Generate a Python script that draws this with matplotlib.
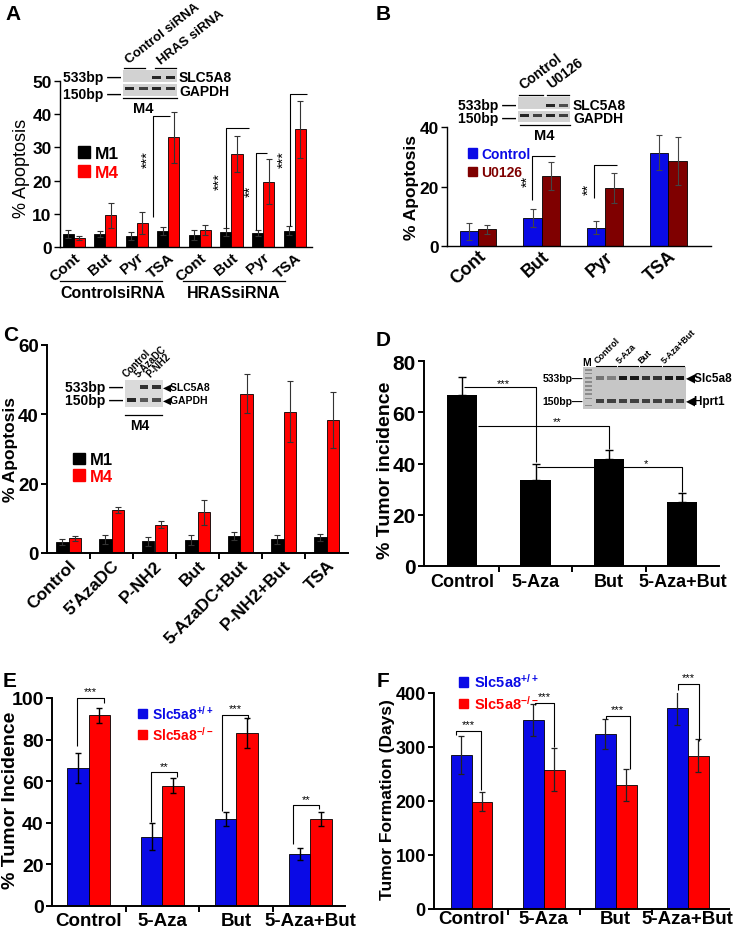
import matplotlib
matplotlib.use('Agg')
import matplotlib.pyplot as plt
import numpy as np
from matplotlib.patches import Rectangle, Patch
from matplotlib.lines import Line2D

plt.rcParams['font.family'] = ['Liberation Sans', 'DejaVu Sans']
plt.rcParams['mathtext.fontset'] = 'custom'
plt.rcParams['mathtext.rm'] = 'Liberation Sans:bold'
plt.rcParams['mathtext.bf'] = 'Liberation Sans:bold'
plt.rcParams['mathtext.default'] = 'regular'

# ---------------- data ----------------
A_cats = ['Cont', 'But', 'Pyr', 'TSA', 'Cont', 'But', 'Pyr', 'TSA']
A_m1 = [3.9, 4.0, 3.3, 4.9, 3.5, 4.4, 4.1, 4.9]
A_m1_err = [1.1, 0.9, 1.3, 1.2, 1.5, 1.2, 0.9, 1.3]
A_m4 = [2.6, 9.6, 7.1, 33.0, 5.0, 28.0, 19.7, 35.4]
A_m4_err = [0.6, 3.8, 3.3, 7.7, 1.5, 5.5, 6.8, 8.7]
A_groups = ['ControlsiRNA', 'HRASsiRNA']

B_cats = ['Cont', 'But', 'Pyr', 'TSA']
B_ctrl = [4.9, 9.4, 6.2, 31.4]
B_ctrl_err = [2.8, 2.9, 2.1, 6.0]
B_u0126 = [5.6, 23.6, 19.5, 28.5]
B_u0126_err = [1.5, 4.8, 5.2, 8.0]

C_cats = ['Control', "5'AzaDC", 'P-NH2', 'But', '5-AzaDC+But', 'P-NH2+But', 'TSA']
C_m1 = [3.1, 3.9, 3.4, 3.8, 4.9, 3.9, 4.5]
C_m1_err = [0.9, 1.2, 1.3, 1.5, 1.1, 1.3, 1.0]
C_m4 = [4.2, 12.4, 8.1, 11.7, 46.0, 40.8, 38.3]
C_m4_err = [0.8, 0.8, 1.0, 3.7, 5.5, 8.9, 8.0]

D_cats = ['Control', '5-Aza', 'But', '5-Aza+But']
D_vals = [66.7, 33.4, 41.7, 25.1]
D_err = [7.2, 6.6, 3.5, 3.5]

E_cats = ['Control', '5-Aza', 'But', '5-Aza+But']
E_wt = [66.4, 33.4, 41.8, 24.9]
E_wt_err = [7.1, 6.3, 3.5, 2.9]
E_ko = [91.6, 57.9, 83.1, 41.8]
E_ko_err = [3.7, 3.5, 7.3, 3.5]

F_cats = ['Control', '5-Aza', 'But', '5-Aza+But']
F_wt = [285, 350, 324, 373]
F_wt_err = [35, 30, 28, 32]
F_ko = [199, 258, 230, 284]
F_ko_err = [17, 40, 30, 30]

BLACK = '#000000'
RED = '#ff0000'
BLUE = '#0a0ae6'
DKRED = '#7f0000'

W, H = 742, 928
fig = plt.figure(figsize=(W / 100, H / 100), dpi=100)


def add_ax(l, t, r, b):
    return fig.add_axes([l / W, 1 - b / H, (r - l) / W, (b - t) / H])


def ftext(x, y, s, **kw):
    kw.setdefault('fontweight', 'bold')
    kw.setdefault('ha', 'center')
    kw.setdefault('va', 'center')
    return fig.text(x / W, 1 - y / H, s, **kw)


def fline(x0, y0, x1, y1, lw=1.0, color='black'):
    fig.add_artist(Line2D([x0 / W, x1 / W], [1 - y0 / H, 1 - y1 / H], lw=lw, color=color))


def style(ax, lw=1.2, ytick_fs=11, minor=True, n=None):
    for s in ['top', 'right']:
        ax.spines[s].set_visible(False)
    for s in ['left', 'bottom']:
        ax.spines[s].set_linewidth(lw)
    ax.tick_params(axis='y', direction='out', length=4, width=lw, labelsize=ytick_fs, pad=2)
    ax.tick_params(axis='x', which='major', length=0)
    if minor and n is not None:
        ax.set_xticks(np.arange(n - 1) + 0.5, minor=True)
        ax.tick_params(axis='x', which='minor', direction='out', length=4, width=lw)
    for lab in ax.get_yticklabels():
        lab.set_fontweight('bold')


def pair(ax, v1, e1, v2, e2, w, c1, c2, ecolor='black', elw=0.8, cap=2.5, edge='black'):
    x = np.arange(len(v1))
    ax.bar(x - w / 2, v1, w, color=c1, edgecolor=edge, linewidth=0.6)
    ax.bar(x + w / 2, v2, w, color=c2, edgecolor=edge, linewidth=0.6)
    ax.errorbar(x - w / 2, v1, yerr=e1, fmt='none', ecolor=ecolor, elinewidth=elw, capsize=cap, capthick=elw)
    ax.errorbar(x + w / 2, v2, yerr=e2, fmt='none', ecolor=ecolor, elinewidth=elw, capsize=cap, capthick=elw)


def path(ax, xs, ys, lw=0.8):
    ax.plot(xs, ys, color='black', lw=lw, clip_on=False, solid_capstyle='butt')


def gel(l, t, r, b, rows, bg='#d2d2d2', sep=None, bw=0.7, bh=0.12, ladder=None):
    g = add_ax(l, t, r, b)
    n = len(rows[0][1])
    g.set_xlim(0, n)
    g.set_ylim(0, 1)
    g.set_facecolor(bg)
    g.set_xticks([])
    g.set_yticks([])
    for s in g.spines.values():
        s.set_visible(False)
    for yc, lanes in rows:
        for i, v in enumerate(lanes):
            if v > 0:
                g.add_patch(Rectangle((i + (1 - bw) / 2, yc - bh / 2), bw, bh,
                                      color=str(1 - v), lw=0))
    if sep is not None:
        g.axhline(sep, color='white', lw=1.5)
    if ladder is not None:
        for yl in ladder:
            g.add_patch(Rectangle((0.2, yl - 0.015), 0.6, 0.03, color='0.55', lw=0))
    return g


# ======================= Panel A =======================
axA = add_ax(60, 82, 312, 248)
wA = 0.35
pair(axA, A_m1, A_m1_err, A_m4, A_m4_err, wA, BLACK, RED, ecolor='#333333', elw=0.8, cap=2)
axA.set_xlim(-0.43, 7.55)
axA.set_ylim(0, 50)
axA.set_yticks([0, 10, 20, 30, 40, 50])
style(axA, lw=1.0, ytick_fs=12.5, minor=False)
axA.set_xticks(range(len(A_cats)))
axA.set_xticklabels(A_cats, rotation=40, ha='right', rotation_mode='anchor',
                    fontsize=11, fontweight='bold')
axA.tick_params(axis='x', pad=2)
# significance brackets
path(axA, [2.52, 2.52, 3.06], [9.0, 39.5, 39.5])
axA.text(2.35, 26.5, '***', rotation=90, ha='center', va='center', fontsize=10.5)
path(axA, [4.82, 4.82, 5.54], [5.7, 35.7, 35.7])
axA.text(4.62, 20, '***', rotation=90, ha='center', va='center', fontsize=10.5)
path(axA, [5.79, 5.79, 6.14], [5.0, 28.2, 28.2])
axA.text(5.6, 17, '**', rotation=90, ha='center', va='center', fontsize=10.5)
path(axA, [6.84, 6.84, 7.38], [6.3, 46.0, 46.0])
axA.text(6.66, 26.5, '***', rotation=90, ha='center', va='center', fontsize=10.5)
axA.legend(handles=[Patch(color=BLACK), Patch(color=RED)], labels=['M1', 'M4'],
           labelcolor=[BLACK, RED], frameon=False, handlelength=0.7, handleheight=0.7,
           handletextpad=0.3, labelspacing=0.25, prop={'weight': 'bold', 'size': 12.5},
           loc='center left', bbox_to_anchor=(62 / W, 1 - 164 / H), bbox_transform=fig.transFigure)
ftext(22, 168, '% Apoptosis', rotation=90, fontsize=13, fontweight='normal')
ftext(13, 15, 'A', fontsize=15)
# group labels
fline(60, 282, 162, 282, lw=0.9)
ftext(113, 294, A_groups[0], fontsize=11.5)
fline(183, 282, 285, 282, lw=0.9)
ftext(234, 294, A_groups[1], fontsize=11.5)
# gel inset A
gel(123, 71, 177, 97, [(0.70, [0, 0, 0.85, 0.85]), (0.30, [0.85, 0.75, 0.85, 0.8])], sep=0.5)
ftext(121, 78, '533bp —', ha='right', fontsize=10)
ftext(121, 95, '150bp —', ha='right', fontsize=10)
ftext(179, 78, 'SLC5A8', ha='left', fontsize=10)
ftext(179, 92, 'GAPDH', ha='left', fontsize=10)
fline(123, 99, 177, 99, lw=0.9)
ftext(143, 109, 'M4', fontsize=10.5)
fline(124, 69, 145, 69, lw=0.9)
fline(155, 69, 176, 69, lw=0.9)
ftext(131, 66, 'Control siRNA', ha='left', va='bottom', rotation=38, rotation_mode='anchor', fontsize=9.5)
ftext(163, 67, 'HRAS siRNA', ha='left', va='bottom', rotation=38, rotation_mode='anchor', fontsize=9.5)

# ======================= Panel B =======================
axB = add_ax(447, 128, 711, 247)
wB = 0.285
pair(axB, B_ctrl, B_ctrl_err, B_u0126, B_u0126_err, wB, BLUE, DKRED, ecolor='#444444', elw=0.8, cap=2.5)
axB.set_xlim(-0.49, 3.67)
axB.set_ylim(0, 40)
axB.set_yticks([0, 20, 40])
style(axB, lw=1.0, ytick_fs=12.5, minor=False)
axB.set_xticks(range(len(B_cats)))
axB.set_xticklabels(B_cats, rotation=42, ha='right', rotation_mode='anchor',
                    fontsize=13, fontweight='bold')
axB.tick_params(axis='x', pad=1)
path(axB, [0.85, 0.85, 1.21], [15.6, 30.3, 30.3])
axB.text(0.78, 21.9, '**', rotation=90, ha='center', va='center', fontsize=10.5)
path(axB, [1.83, 1.83, 2.19], [16.0, 27.2, 27.2])
axB.text(1.74, 19.4, '**', rotation=90, ha='center', va='center', fontsize=10.5)
axB.legend(handles=[Patch(color=BLUE), Patch(color=DKRED)], labels=['Control', 'U0126'],
           labelcolor=[BLUE, DKRED], frameon=False, handlelength=0.7, handleheight=0.7,
           handletextpad=0.3, labelspacing=0.35, prop={'weight': 'bold', 'size': 10},
           loc='center left', bbox_to_anchor=(455 / W, 1 - 164 / H), bbox_transform=fig.transFigure)
ftext(411, 188, '% Apoptosis', rotation=90, fontsize=12.5)
ftext(383, 15, 'B', fontsize=15)
gel(518, 98, 570, 123, [(0.68, [0, 0, 0.85, 0.7]), (0.25, [0.85, 0.75, 0.85, 0.75])], sep=0.48)
ftext(516, 106, '533bp —', ha='right', fontsize=10)
ftext(516, 119, '150bp —', ha='right', fontsize=10)
ftext(573, 106, 'SLC5A8', ha='left', fontsize=10)
ftext(573, 119, 'GAPDH', ha='left', fontsize=10)
fline(520, 126, 570, 126, lw=0.9)
ftext(544, 136, 'M4', fontsize=10.5)
fline(519, 96, 543, 96, lw=0.9)
fline(547, 96, 569, 96, lw=0.9)
ftext(525, 92, 'Control', ha='left', va='bottom', rotation=37, rotation_mode='anchor', fontsize=10)
ftext(553, 91, 'U0126', ha='left', va='bottom', rotation=37, rotation_mode='anchor', fontsize=10)

# ======================= Panel C =======================
axC = add_ax(47, 346, 348, 554)
wC = 0.28
pair(axC, C_m1, C_m1_err, C_m4, C_m4_err, wC, BLACK, RED, ecolor='#333333', elw=0.8, cap=2.5)
axC.set_xlim(-0.5, 6.5)
axC.set_ylim(0, 60)
axC.set_yticks([0, 20, 40, 60])
style(axC, lw=1.4, ytick_fs=13.5, minor=True, n=len(C_cats))
axC.set_xticks(range(len(C_cats)))
axC.set_xticklabels(C_cats, rotation=45, ha='right', rotation_mode='anchor',
                    fontsize=12.5, fontweight='bold')
axC.tick_params(axis='x', pad=3)
axC.legend(handles=[Patch(color=BLACK), Patch(color=RED)], labels=['M1', 'M4'],
           labelcolor=[BLACK, RED], frameon=False, handlelength=0.7, handleheight=0.7,
           handletextpad=0.3, labelspacing=0.1, prop={'weight': 'bold', 'size': 12},
           loc='center left', bbox_to_anchor=(58 / W, 1 - 469 / H), bbox_transform=fig.transFigure)
ftext(11, 450, '% Apoptosis', rotation=90, fontsize=12.5)
ftext(11, 336, 'C', fontsize=15)
gel(125, 381, 163, 408, [(0.74, [0, 0.8, 0.8]), (0.26, [0.85, 0.65, 0.7])], bg='#dadada')
ftext(123, 388, '533bp —', ha='right', fontsize=10)
ftext(123, 401, '150bp —', ha='right', fontsize=10)
ftext(163, 388, '◀SLC5A8', ha='left', fontsize=7.5)
ftext(163, 401, '◀GAPDH', ha='left', fontsize=7.5)
fline(125, 416, 162, 416, lw=0.9)
ftext(140, 426, 'M4', fontsize=10)
ftext(128, 379, 'Control', ha='left', va='bottom', rotation=45, rotation_mode='anchor', fontsize=7)
ftext(140, 379, '5-AzaDC', ha='left', va='bottom', rotation=45, rotation_mode='anchor', fontsize=7)
ftext(152, 379, 'P-NH2', ha='left', va='bottom', rotation=45, rotation_mode='anchor', fontsize=7)

# ======================= Panel D =======================
axD = add_ax(424, 362, 719, 567)
xD = np.arange(len(D_vals))
axD.bar(xD, D_vals, 0.41, color=BLACK)
axD.errorbar(xD, D_vals, yerr=[np.zeros(len(D_err)), D_err], fmt='none', ecolor=BLACK,
             elinewidth=1.0, capsize=3, capthick=1.0)
axD.set_xlim(-0.52, 3.5)
axD.set_ylim(0, 80)
axD.set_yticks([0, 20, 40, 60, 80])
style(axD, lw=1.4, ytick_fs=15, minor=True, n=len(D_cats))
axD.set_xticks(xD)
axD.set_xticklabels(D_cats, fontsize=13, fontweight='bold')
axD.tick_params(axis='x', pad=5)
path(axD, [0.03, 1.01, 1.01], [69.7, 69.7, 40.4])
axD.text(0.56, 71.5, '***', ha='center', va='center', fontsize=8)
path(axD, [0.22, 2.0, 2.0], [54.6, 54.6, 45.5])
axD.text(1.3, 56.4, '**', ha='center', va='center', fontsize=8)
path(axD, [1.02, 3.0, 3.0], [38.6, 38.6, 28.8])
axD.text(2.51, 40.3, '*', ha='center', va='center', fontsize=8)
ftext(385, 470, '% Tumor incidence', rotation=90, fontsize=14)
ftext(383, 340, 'D', fontsize=15)
gel(583, 368, 686, 410,
    [(0.74, [0, 0.55, 0.5, 0.9, 0.9, 0.8, 0.8, 0.9, 0.9]),
     (0.19, [0, 0.75, 0.75, 0.75, 0.75, 0.75, 0.75, 0.75, 0.75])],
    bg='#c6c6c6', bw=0.72, bh=0.09,
    ladder=[0.93, 0.84, 0.74, 0.64, 0.55, 0.45, 0.36, 0.25, 0.08])
ftext(583, 379, '533bp—', ha='right', fontsize=7.5)
ftext(583, 402, '150bp—', ha='right', fontsize=7.5)
ftext(686, 379, '◀Slc5a8', ha='left', fontsize=8.5)
ftext(686, 402, '◀Hprt1', ha='left', fontsize=8.5)
ftext(587, 363, 'M', fontsize=7.5)
for (xa, xb, lab) in [(596, 616, 'Control'), (618, 638, '5-Aza'), (640, 661, 'But'), (663, 684, '5-Aza+But')]:
    fline(xa, 367, xb, 367, lw=0.8)
    ftext(xa + 3, 365, lab, ha='left', va='bottom', rotation=45, rotation_mode='anchor', fontsize=6.5)

# ======================= Panel E =======================
axE = add_ax(52, 699, 345, 907)
wE = 0.29
pair(axE, E_wt, E_wt_err, E_ko, E_ko_err, wE, BLUE, RED, ecolor='black', elw=1.0, cap=2.5)
axE.set_xlim(-0.495, 3.47)
axE.set_ylim(0, 100)
axE.set_yticks([0, 20, 40, 60, 80, 100])
style(axE, lw=1.4, ytick_fs=14, minor=True, n=len(E_cats))
axE.set_xticks(range(len(E_cats)))
axE.set_xticklabels(E_cats, fontsize=13.5, fontweight='bold')
axE.tick_params(axis='x', pad=4)
for (xl, xr, yl, yt, yr, lab, yl2) in [(-0.15, 0.21, 77.1, 100.0, 97.7, '***', 103.5),
                                         (0.84, 1.2, 40.2, 64.3, 61.9, '**', 67.5),
                                         (1.81, 2.16, 45.5, 92.0, 90.0, '***', 95.3),
                                         (2.77, 3.12, 29.7, 48.6, 46.6, '**', 51.5)]:
    path(axE, [xl, xl, xr, xr], [yl, yt, yt, yr])
    axE.text((xl + xr) / 2, yl2, lab, ha='center', va='center', fontsize=8)
axE.legend(handles=[Patch(color=BLUE), Patch(color=RED)],
           labels=['Slc5a8$^{+/+}$', 'Slc5a8$^{-/-}$'],
           labelcolor=[BLUE, RED], frameon=False, handlelength=0.6, handleheight=0.6,
           handletextpad=0.4, labelspacing=0.2, prop={'weight': 'bold', 'size': 10},
           loc='center left', bbox_to_anchor=(126 / W, 1 - 724 / H), bbox_transform=fig.transFigure)
ftext(11, 800, '% Tumor Incidence', rotation=90, fontsize=14)
ftext(10, 682, 'E', fontsize=15)

# ======================= Panel F =======================
axF = add_ax(434, 694, 729, 910)
wF = 0.29
pair(axF, F_wt, F_wt_err, F_ko, F_ko_err, wF, BLUE, RED, ecolor='#222222', elw=0.9, cap=2.5)
axF.set_xlim(-0.52, 3.57)
axF.set_ylim(0, 400)
axF.set_yticks([0, 100, 200, 300, 400])
style(axF, lw=1.4, ytick_fs=13, minor=True, n=len(F_cats))
axF.set_xticks(range(len(F_cats)))
axF.set_xticklabels(F_cats, fontsize=13.5, fontweight='bold')
axF.tick_params(axis='x', pad=1)
F_br = [(-0.21, 0.13, 321.5, 329.5, 219.5, 342),
        (-0.125, 0.14, 378, 381.5, 300, 394),
        (-0.14, 0.195, 352, 357.3, 260, 371),
        (-0.14, 0.15, 406, 416, 312, 430)]
for i, (xl, xr, yl, yt, yr, yl2) in enumerate(F_br):
    path(axF, [i + xl, i + xl, i + xr, i + xr], [yl, yt, yt, yr])
    axF.text(i + (xl + xr) / 2, yl2, '***', ha='center', va='center', fontsize=8)
axF.legend(handles=[Patch(color=BLUE), Patch(color=RED)],
           labels=['Slc5a8$^{+/+}$', 'Slc5a8$^{-/-}$'],
           labelcolor=[BLUE, RED], frameon=False, handlelength=0.6, handleheight=0.6,
           handletextpad=0.4, labelspacing=0.25, prop={'weight': 'bold', 'size': 10.5},
           loc='center left', bbox_to_anchor=(446 / W, 1 - 693 / H), bbox_transform=fig.transFigure)
ftext(387, 800, 'Tumor Formation (Days)', rotation=90, fontsize=12.5)
ftext(383, 682, 'F', fontsize=15)

fig.savefig('out.png', dpi=100)
